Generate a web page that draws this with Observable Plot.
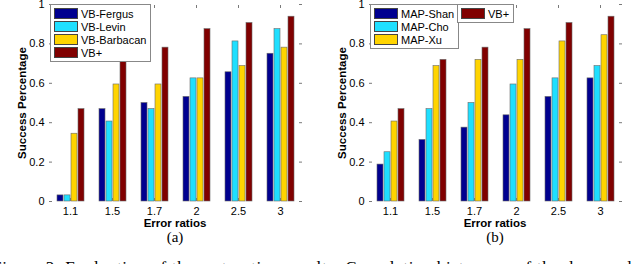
<!DOCTYPE html>
<html>
<head>
<meta charset="utf-8">
<script src="https://cdn.jsdelivr.net/npm/d3@7"></script>
<script src="https://cdn.jsdelivr.net/npm/@observablehq/plot@0.6"></script>
<style>
  html, body { margin: 0; padding: 0; background: #fff; }
  #fig { position: relative; width: 640px; height: 264px; overflow: hidden; background: #fff; }
  .panel { position: absolute; top: 0; width: 320px; height: 232px; }
  .panel svg { display: block; }
  .legend { position: absolute; background: #fff; border: 1px solid #888; padding: 2px 4px 2px 3px;
            font-family: "Liberation Sans", Arial, sans-serif; font-size: 11px; color: #000; }
  .legend .row { display: flex; align-items: center; height: 13px; white-space: nowrap; }
  .legend .sw { width: 22px; height: 8.5px; border: 1px solid #444; margin-right: 3px; flex: none; }
  .axlabel { position: absolute; width: 200px; text-align: center; line-height: 14px; white-space: nowrap;
             font-family: "Liberation Sans", Arial, sans-serif; font-size: 11.5px; font-weight: bold; color: #000; }
  .ylab { transform: rotate(-90deg); transform-origin: 100px 7px; }
  .sub { position: absolute; top: 230px; width: 40px; text-align: center; line-height: 15px;
         font-family: "Liberation Serif", "DejaVu Serif", serif; font-size: 15px; }
  #caption { position: absolute; white-space: nowrap; line-height: 16px;
             font-family: "Liberation Serif", "DejaVu Serif", serif; font-size: 17px; }
</style>
</head>
<body>
<div id="fig"></div>
<script>
// ---- data ----
const ratios = ["1.1", "1.5", "1.7", "2", "2.5", "3"];
const methodsA = ["VB-Fergus", "VB-Levin", "VB-Barbacan", "VB+"];
const methodsB = ["MAP-Shan", "MAP-Cho", "MAP-Xu", "VB+"];
const vbFergus   = [0.031, 0.469, 0.500, 0.531, 0.656, 0.750];
const vbLevin    = [0.031, 0.406, 0.469, 0.625, 0.8125, 0.875];
const vbBarbacan = [0.344, 0.594, 0.594, 0.625, 0.6875, 0.781];
const vbPlus     = [0.469, 0.719, 0.781, 0.875, 0.906, 0.938];
const mapShan    = [0.1875, 0.3125, 0.375, 0.4375, 0.531, 0.625];
const mapCho     = [0.250, 0.469, 0.500, 0.594, 0.625, 0.6875];
const mapXu      = [0.406, 0.6875, 0.719, 0.719, 0.8125, 0.844];
const colors = ["#00008f", "#1fdfff", "#ffd400", "#800000"];
const yTicks = [0, 0.2, 0.4, 0.6, 0.8, 1];
const yLabel = "Success Percentage";
const xLabel = "Error ratios";
const subLabels = ["(a)", "(b)"];
const captionVisible = "Figure 3: Evaluation of the restoration results: Cumulative histogram of the deconvolu";
const captionText = "Figure 3: Evaluation of the restoration results: Cumulative histogram of the deconvolution error ratios";

const fig = document.getElementById("fig");

function addDiv(cls, text, left, top) {
  const d = document.createElement("div");
  d.className = cls;
  d.textContent = text;
  d.style.left = left + "px";
  d.style.top = top + "px";
  fig.appendChild(d);
  return d;
}

function panel(methods, series, offset, legendGroups, sub) {
  const data = ratios.flatMap((r, i) => methods.map((m, j) => ({ratio: r, method: m, value: series[j][i]})));
  const axisColor = "#7a7a7a";
  const chart = Plot.plot({
    width: 320, height: 232,
    marginLeft: 49, marginRight: 19, marginTop: 4, marginBottom: 31,
    style: {fontFamily: "Liberation Sans, Arial, sans-serif", fontSize: "11px", color: "#000", background: "transparent"},
    fx: {domain: ratios, padding: 0},
    x: {domain: methods, paddingInner: 0.2, paddingOuter: 0.81, axis: null},
    y: {domain: [0, 1]},
    color: {domain: methods, range: colors},
    marks: [
      Plot.barY(data, {fx: "ratio", x: "method", y: "value", fill: "method", stroke: "#6a6a6a", strokeWidth: 0.6}),
      Plot.axisY({ticks: yTicks, tickFormat: d => String(d), tickSize: -3, tickPadding: 8, line: true, stroke: axisColor, label: null}),
      Plot.axisY({anchor: "right", ticks: yTicks, tickFormat: () => "", tickSize: -3, line: true, stroke: axisColor, label: null}),
      Plot.axisFx({anchor: "bottom", tickSize: -3, tickPadding: 9, line: true, stroke: axisColor, label: null}),
      Plot.axisFx({anchor: "top", tickSize: -3, tickFormat: () => "", line: true, stroke: axisColor, label: null})
    ]
  });
  const wrap = document.createElement("div");
  wrap.className = "panel";
  wrap.style.left = offset + "px";
  wrap.appendChild(chart);
  fig.appendChild(wrap);

  // axis titles
  addDiv("axlabel ylab", yLabel, offset + 22 - 100, 102.5 - 7);
  addDiv("axlabel", xLabel, offset + 175 - 100, 223 - 7);

  // legends (HTML overlay)
  legendGroups.forEach(g => {
    const box = document.createElement("div");
    box.className = "legend";
    box.style.left = (offset + g.left) + "px";
    box.style.top = "4px";
    g.items.forEach(idx => {
      const row = document.createElement("div");
      row.className = "row";
      const sw = document.createElement("span");
      sw.className = "sw";
      sw.style.background = colors[idx];
      row.appendChild(sw);
      row.appendChild(document.createTextNode(methods[idx]));
      box.appendChild(row);
    });
    fig.appendChild(box);
  });

  addDiv("sub", sub, offset + 175 - 20, 230);
}

panel(methodsA, [vbFergus, vbLevin, vbBarbacan, vbPlus], 0, [{left: 50, items: [0, 1, 2, 3]}], subLabels[0]);
panel(methodsB, [mapShan, mapCho, mapXu, vbPlus], 320, [{left: 50, items: [0, 1, 2]}, {left: 137, items: [3]}], subLabels[1]);

// caption: stretch letter spacing so the visible part spans the width like the reference
const cap = addDiv("", captionText, -8, 260);
cap.id = "caption";
const probe = document.createElement("span");
probe.style.cssText = "position:absolute;visibility:hidden;white-space:nowrap;font-family:'Liberation Serif','DejaVu Serif',serif;font-size:17px";
probe.textContent = captionVisible;
fig.appendChild(probe);
const w = probe.getBoundingClientRect().width;
probe.remove();
cap.style.letterSpacing = ((650 - w) / captionVisible.length) + "px";
</script>
</body>
</html>
